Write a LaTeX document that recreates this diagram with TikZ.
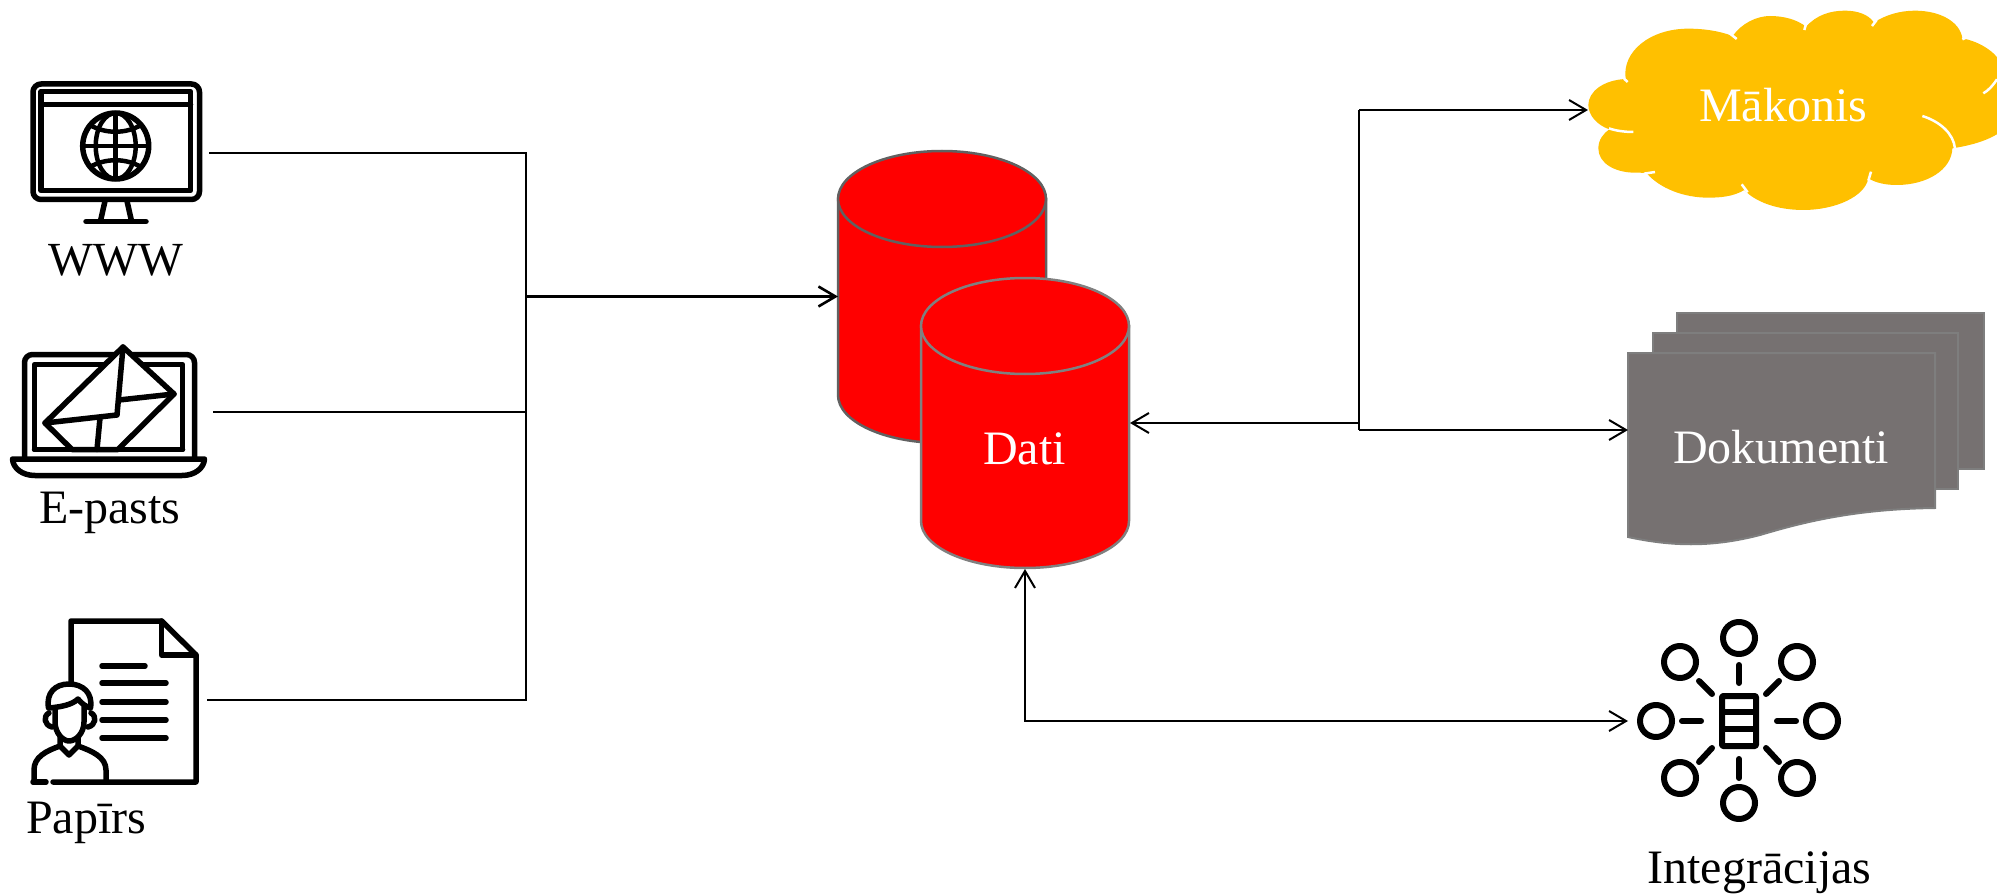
\documentclass[tikz,border=0pt]{standalone}
\usepackage{fontspec}
\setmainfont{Liberation Serif}
\usetikzlibrary{arrows.meta}
\definecolor{cloudc}{HTML}{FFC000}
\definecolor{docc}{HTML}{767171}
\definecolor{docb}{HTML}{7E7E7E}
\tikzset{
  lbl/.style={anchor=base,inner sep=0pt,font=\fontsize{48}{50}\selectfont,text=black},
  wlbl/.style={lbl,text=white},
  ico/.style={line width=5.5pt,line cap=round,line join=round,draw=black},
  conn/.style={line width=2pt,draw=black},
  tip/.style={conn,{-{Straight Barb[length=17pt,width=20pt]}}},
  dbtip/.style={conn,{{Straight Barb[length=17pt,width=20pt]}-{Straight Barb[length=17pt,width=20pt]}}},
  cylback/.style={fill=red,draw=black!62,line width=2.5pt},
  cylfront/.style={fill=red,draw=black!50,line width=2.5pt},
  sheet/.style={fill=docc,draw=docb,line width=2pt},
  cuts/.style={white,line width=2.5pt},
}
\begin{document}
\begin{tikzpicture}[x=1pt,y=-1pt]
\useasboundingbox (0,0) rectangle (1997,896);
\clip (0,0) rectangle (1997,896);

% --- monitor icon
\draw[ico,rounded corners=8pt] (33,84) rectangle (199.5,199.5);
\draw[ico] (41,91.5) rectangle (190.5,190.5);
\draw[ico] (41,104.5) -- (190.5,104.5);
\draw[ico,line width=5.5pt] (115.7,146) circle[radius=33pt];
\draw[ico,line width=4.5pt] (115.7,113) -- (115.7,179) (82.7,146) -- (148.7,146);
\draw[ico,line width=4.5pt] (115.7,146) circle[x radius=20pt,y radius=33pt];
\draw[ico,line width=4.5pt] (90,125) .. controls (105,134) and (126,134) .. (141,125);
\draw[ico,line width=4.5pt] (90,167) .. controls (105,158) and (126,158) .. (141,167);
\draw[ico,line cap=butt] (105,201) -- (100.5,221) (127,201) -- (131.5,221);
\draw[ico] (86,221.5) -- (146,221.5);
\node[lbl,font=\fontsize{47.5}{50}\selectfont] (www) at (116,275) {WWW};

% --- laptop icon
\draw[ico,rounded corners=8pt] (24.5,458) -- (24.5,354.5) -- (194.5,354.5) -- (194.5,458);
\draw[ico] (34.5,364.5) rectangle (182.5,449.5);
\draw[ico] (12.5,459) -- (204.5,459) .. controls (204,468) and (195,475.5) .. (182,475.5)
  -- (35,475.5) .. controls (22,475.5) and (13,468) .. (12.5,459) -- cycle;
\draw[ico,fill=white] (123,347) -- (174,394) -- (118,449.5) -- (72,449.5) -- (45,423) -- cycle;
\draw[ico] (45,423) -- (117,415) -- (123,347);
\draw[ico] (174,394) -- (119,400);
\draw[ico] (100,418) -- (97,449.5);
\draw[ico] (34.5,449.5) -- (182.5,449.5);
\node[lbl] (epasts) at (110,523) {E-pasts};

% --- paper icon
\draw[ico] (71,682) -- (71,621) -- (161.7,621) -- (196,655) -- (196,782) -- (53,782);
\draw[ico] (161.7,621) -- (161.7,655) -- (196,655);
\draw[ico] (33,782) -- (46,782);
\draw[ico] (102,666) -- (145,666);
\foreach \yy in {683,702,720,738} \draw[ico] (102,\yy) -- (166,\yy);
\draw[ico] (48.5,708) .. controls (46,693) and (55,684) .. (69,684) .. controls (83,684) and (93,693) .. (90.5,708);
\draw[ico] (49,708) .. controls (60,707) and (72,705) .. (78,699) .. controls (81,703) and (85,706) .. (90,708);
\draw[ico] (55,709) -- (55,722) .. controls (55,733) and (63,741) .. (69,741) .. controls (76,741) and (84,733) .. (84,722) -- (84,707);
\draw[ico] (49,713) .. controls (43,716) and (44,725) .. (52,727);
\draw[ico] (91,713) .. controls (97,716) and (96,725) .. (88,727);
\draw[ico] (60,738) -- (60,746) -- (69,755) -- (78,746) -- (78,738);
\draw[ico] (60,746) .. controls (46,751) and (34,757) .. (34,770) -- (34,782);
\draw[ico] (78,746) .. controls (92,751) and (106,757) .. (106,770) -- (106,782);
\node[lbl] (papirs) at (86,833) {Papīrs};

% --- cylinders
\draw[cylback] (838,199) -- (838,395) arc[start angle=180,end angle=360,x radius=104pt,y radius=48pt] -- (1046,199) -- cycle;
\draw[cylback] (942,199) circle[x radius=104pt,y radius=48pt];
\draw[cylfront] (921,326) -- (921,521) arc[start angle=180,end angle=360,x radius=104pt,y radius=47pt] -- (1129,326) -- cycle;
\draw[cylfront] (1025,326) circle[x radius=104pt,y radius=48pt];
\node[wlbl] (dati) at (1024.5,464) {Dati};

% --- cloud
\begin{scope}[shift={(1560,0)},x=0.33333pt,y=-0.33333pt]
\fill[cloudc] (85,315) .. controls (85,275) and (130,240) .. (197,237)
  .. controls (185,155) and (270,86) .. (385,86) .. controls (430,86) and (475,92) .. (518,108)
  .. controls (545,70) and (590,48) .. (630,48) .. controls (670,48) and (710,58) .. (738,80)
  .. controls (770,45) and (810,32) .. (855,32) .. controls (890,32) and (925,42) .. (942,68)
  .. controls (975,45) and (1020,32) .. (1065,32) .. controls (1140,32) and (1200,65) .. (1207,115)
  .. controls (1260,125) and (1320,160) .. (1330,210) -- (1330,390)
  .. controls (1290,420) and (1240,435) .. (1177,445)
  .. controls (1175,510) and (1100,555) .. (1010,555) .. controls (980,555) and (950,550) .. (925,535)
  .. controls (915,590) and (825,630) .. (730,630) .. controls (650,630) and (585,605) .. (553,570)
  .. controls (520,590) and (480,593) .. (445,593) .. controls (370,593) and (300,565) .. (260,520)
  .. controls (250,518) and (235,518) .. (225,518) .. controls (165,518) and (115,490) .. (115,445)
  .. controls (115,420) and (130,400) .. (148,388) .. controls (110,375) and (85,345) .. (85,315) -- cycle;
\draw[cuts] (505,97) -- (530,117);
\draw[cuts] (738,72) -- (733,90);
\draw[cuts] (950,60) -- (936,78);
\draw[cuts] (1207,118) -- (1218,113);
\draw[cuts] (1270,280) .. controls (1285,272) and (1300,255) .. (1311,238);
\draw[cuts] (1087,348) .. controls (1140,365) and (1180,400) .. (1185,445);
\draw[cuts] (147,385) .. controls (165,392) and (195,396) .. (220,396);
\draw[cuts] (192,236) -- (203,246);
\draw[cuts] (252,521) -- (285,516);
\draw[cuts] (545,553) -- (563,577);
\draw[cuts] (933,515) -- (925,542);
\end{scope}
\node[wlbl] (makonis) at (1783,122) {Mākonis};

% --- documents
\draw[sheet] (1677,313) rectangle (1984,469);
\draw[sheet] (1653,333) rectangle (1958,489);
\draw[sheet] (1628,353) -- (1935,353) -- (1935,508)
  .. controls (1860,509) and (1810,520) .. (1760,535) .. controls (1710,548) and (1670,546) .. (1628,537) -- cycle;
\node[wlbl] (dokumenti) at (1781,463) {Dokumenti};

% --- integrations icon
\foreach \cx/\cy in {1739/638,1680/662,1797/662,1656/721,1822/721,1680/778,1797/778,1739/803}
  \draw[ico,line width=6pt] (\cx,\cy) circle[radius=16pt];
\draw[ico,line width=6pt,rounded corners=1pt] (1722,696) rectangle (1756,746);
\draw[ico] (1722,712) -- (1756,712) (1722,729) -- (1756,729);
\draw[ico,line width=6pt] (1739,665) -- (1739,683) (1739,759) -- (1739,778);
\draw[ico,line width=6pt] (1682,721) -- (1701,721) (1777,721) -- (1796,721);
\draw[ico,line width=6pt] (1699,681) -- (1712,694) (1779,681) -- (1766,694);
\draw[ico,line width=6pt] (1712,748) -- (1699,762) (1766,748) -- (1779,762);
\node[lbl] (integr) at (1759.5,883) {Integrācijas};

% --- connector anchors
\coordinate (wwwout) at (209,153);
\coordinate (pastsout) at (213,412);
\coordinate (papout) at (207,700);
\coordinate (busw) at (526,153);
\coordinate (busm) at (526,412);
\coordinate (busp) at (526,700);
\coordinate (busin) at (526,296.5);
\coordinate (backin) at (838,296.5);
\coordinate (frontr) at (1130,423);
\coordinate (juncm) at (1359,423);
\coordinate (junct) at (1359,110);
\coordinate (juncb) at (1359,430);
\coordinate (cloudin) at (1588,110);
\coordinate (docin) at (1628,430);
\coordinate (frontb) at (1025,569);
\coordinate (low) at (1025,721);
\coordinate (intin) at (1628,721);

% --- connectors
\draw[conn] (wwwout) -- (busw) -- (busp) -- (papout);
\draw[conn] (pastsout) -- (busm);
\draw[tip,line width=2.6pt] (busin) -- (backin);
\draw[tip] (juncm) -- (frontr);
\draw[conn] (juncm) -- (junct);
\draw[conn] (juncm) -- (juncb);
\draw[tip] (junct) -- (cloudin);
\draw[tip] (juncb) -- (docin);
\draw[dbtip] (frontb) -- (low) -- (intin);
\end{tikzpicture}
\end{document}
